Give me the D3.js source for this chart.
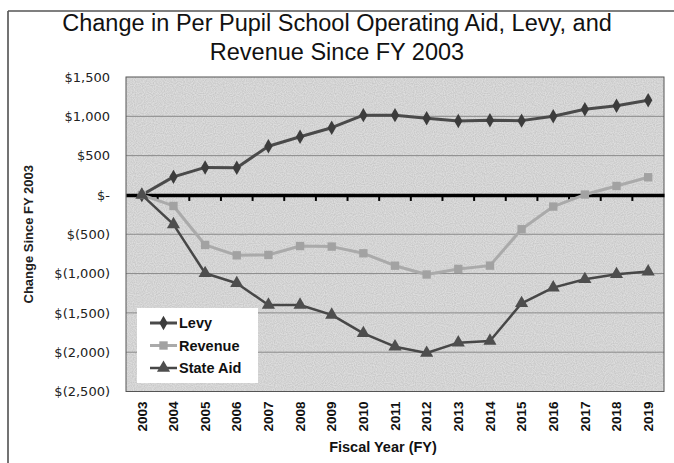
<!DOCTYPE html>
<html>
<head>
<meta charset="utf-8">
<script src="https://cdn.jsdelivr.net/npm/d3@7"></script>
<style>
  body { margin: 0; background: #fff; }
  svg { display: block; }
</style>
</head>
<body>
<figure id="chart" style="margin:0"></figure>
<script>
// values (change in $ per pupil since FY 2003)
const years = ["2003","2004","2005","2006","2007","2008","2009","2010","2011","2012","2013","2014","2015","2016","2017","2018","2019"];
const levy = [0, 230, 350, 345, 620, 740, 855, 1015, 1015, 975, 940, 950, 945, 1000, 1090, 1135, 1205];
const revenue = [0, -140, -636, -768, -763, -650, -657, -742, -900, -1012, -941, -899, -436, -148, 5, 114, 225];
const stateAid = [0, -375, -996, -1124, -1399, -1399, -1526, -1760, -1930, -2010, -1879, -1857, -1378, -1179, -1073, -1009, -975];
const yTicks = [1500, 1000, 500, 0, -500, -1000, -1500, -2000, -2500];
const seriesNames = ["Levy", "Revenue", "State Aid"];

const W = 674, H = 463;
const plot = { left: 126, right: 664, top: 77, bottom: 391.5 };

const svg = d3.select("#chart").append("svg")
  .attr("width", W).attr("height", H)
  .style("font-family", "'Liberation Sans', Arial, sans-serif");

// grainy scan look
const defs = svg.append("defs");
const f = defs.append("filter").attr("id", "grain").attr("x", 0).attr("y", 0).attr("width", 1).attr("height", 1);
f.append("feTurbulence").attr("type", "fractalNoise").attr("baseFrequency", 0.9).attr("numOctaves", 1).attr("seed", 3).attr("result", "n");
f.append("feColorMatrix").attr("in", "n").attr("type", "matrix")
  .attr("values", "0 0 0 0 0  0 0 0 0 0  0 0 0 0 0  0 0 0 -1.6 1.1");

// outer frame (only left + top survive in the scan)
svg.append("line").attr("x1", 8).attr("x2", 8).attr("y1", 11).attr("y2", H).attr("stroke", "#444").attr("stroke-width", 1.5);
svg.append("line").attr("x1", 8).attr("x2", W).attr("y1", 11).attr("y2", 11).attr("stroke", "#555").attr("stroke-width", 1.5);

// title
const title = svg.append("text").attr("text-anchor", "middle").attr("font-size", "23.5px").attr("fill", "#111");
title.append("tspan").attr("x", 337).attr("y", 31).text("Change in Per Pupil School Operating Aid, Levy, and");
title.append("tspan").attr("x", 337).attr("y", 60).text("Revenue Since FY 2003");

const x = d3.scaleBand().domain(years).range([plot.left, plot.right]);
const y = d3.scaleLinear().domain([-2500, 1500]).range([plot.bottom, plot.top]);
const cx = d => x(d) + x.bandwidth() / 2;

// plot background
svg.append("rect").attr("x", plot.left).attr("y", plot.top)
  .attr("width", plot.right - plot.left).attr("height", plot.bottom - plot.top)
  .attr("fill", "#dcdcdc");
svg.append("rect").attr("x", plot.left).attr("y", plot.top)
  .attr("width", plot.right - plot.left).attr("height", plot.bottom - plot.top)
  .attr("filter", "url(#grain)").attr("opacity", 0.12);

// gridlines
svg.append("g").selectAll("line")
  .data(yTicks.filter(t => t !== 0 && t !== 1500 && t !== -2500))
  .join("line")
  .attr("x1", plot.left).attr("x2", plot.right)
  .attr("y1", d => y(d)).attr("y2", d => y(d))
  .attr("stroke", "#8a8a8a").attr("stroke-width", 1);

// plot border
svg.append("rect").attr("x", plot.left).attr("y", plot.top)
  .attr("width", plot.right - plot.left).attr("height", plot.bottom - plot.top)
  .attr("fill", "none").attr("stroke", "#555").attr("stroke-width", 1);

// y axis labels
const money = v => v === 0 ? "$-" : v < 0 ? "$(" + d3.format(",")(-v) + ")" : "$" + d3.format(",")(v);
const yAxis = svg.append("g")
  .attr("transform", `translate(${plot.left},0)`)
  .call(d3.axisLeft(y).tickValues(yTicks).tickFormat(money).tickSize(0).tickPadding(16));
yAxis.select(".domain").remove();
yAxis.selectAll("text")
  .attr("font-family", "'DejaVu Sans', sans-serif")
  .attr("font-size", "13px").attr("fill", "#222");

// zero line with category ticks
const zeroAxis = svg.append("g")
  .attr("transform", `translate(0,${y(0)})`)
  .call(d3.axisBottom(x).tickSize(0).tickFormat(""));
zeroAxis.select(".domain").attr("stroke", "#000").attr("stroke-width", 3.5);
zeroAxis.selectAll(".tick").remove();
zeroAxis.selectAll("line.boundary")
  .data(years.slice(1))
  .join("line").attr("class", "boundary")
  .attr("x1", d => x(d)).attr("x2", d => x(d))
  .attr("y1", 0).attr("y2", 6)
  .attr("stroke", "#000").attr("stroke-width", 2);

// x tick labels
const xAxis = svg.append("g")
  .attr("transform", `translate(0,${plot.bottom})`)
  .call(d3.axisBottom(x).tickSize(0));
xAxis.select(".domain").remove();
xAxis.selectAll("text")
  .attr("transform", "rotate(-90)")
  .attr("text-anchor", "end")
  .attr("x", -10).attr("y", 0).attr("dy", "0.35em")
  .attr("font-size", "13.5px").attr("font-weight", "bold")
  .attr("font-family", "'Liberation Sans', Arial, sans-serif").attr("fill", "#111");

// axis titles
svg.append("text").attr("transform", `translate(33,${(plot.top + plot.bottom) / 2}) rotate(-90)`)
  .attr("text-anchor", "middle").attr("font-size", "13px").attr("font-weight", "bold").attr("fill", "#222")
  .text("Change Since FY 2003");
svg.append("text").attr("x", 383).attr("y", 452)
  .attr("text-anchor", "middle").attr("font-size", "14.5px").attr("font-weight", "bold").attr("fill", "#111")
  .text("Fiscal Year (FY)");

// series
const series = [
  { name: "Levy", values: levy, line: "#4a4a4a", mark: "#3c3c3c", width: 3, shape: d3.symbolDiamond, size: 60 },
  { name: "Revenue", values: revenue, line: "#aaaaaa", mark: "#a2a2a2", width: 3, shape: d3.symbolSquare, size: 70 },
  { name: "State Aid", values: stateAid, line: "#474747", mark: "#4e4e4e", width: 2.5, shape: d3.symbolTriangle, size: 75 }
];

const line = d3.line().x((d, i) => cx(years[i])).y(d => y(d));

series.forEach(s => {
  svg.append("path").datum(s.values)
    .attr("d", line).attr("fill", "none")
    .attr("stroke", s.line).attr("stroke-width", s.width).attr("stroke-linejoin", "round");
  svg.append("g").selectAll("path")
    .data(s.values)
    .join("path")
    .attr("transform", (d, i) => `translate(${cx(years[i])},${y(d)})`)
    .attr("d", d3.symbol().type(s.shape).size(s.size))
    .attr("fill", s.mark);
});

// legend
const lg = svg.append("g");
lg.append("rect").attr("x", 137).attr("y", 308).attr("width", 121).attr("height", 75).attr("fill", "#fff");
series.forEach((s, i) => {
  const yy = 323 + i * 22.5;
  lg.append("line").attr("x1", 150).attr("x2", 177).attr("y1", yy).attr("y2", yy)
    .attr("stroke", s.line).attr("stroke-width", s.width);
  lg.append("path").attr("transform", `translate(163.5,${yy})`)
    .attr("d", d3.symbol().type(s.shape).size(s.size)).attr("fill", s.mark);
  lg.append("text").attr("x", 179).attr("y", yy).attr("dy", "0.36em")
    .attr("font-size", "14.5px").attr("font-weight", "bold").attr("fill", "#111")
    .text(seriesNames[i]);
});
</script>
</body>
</html>
